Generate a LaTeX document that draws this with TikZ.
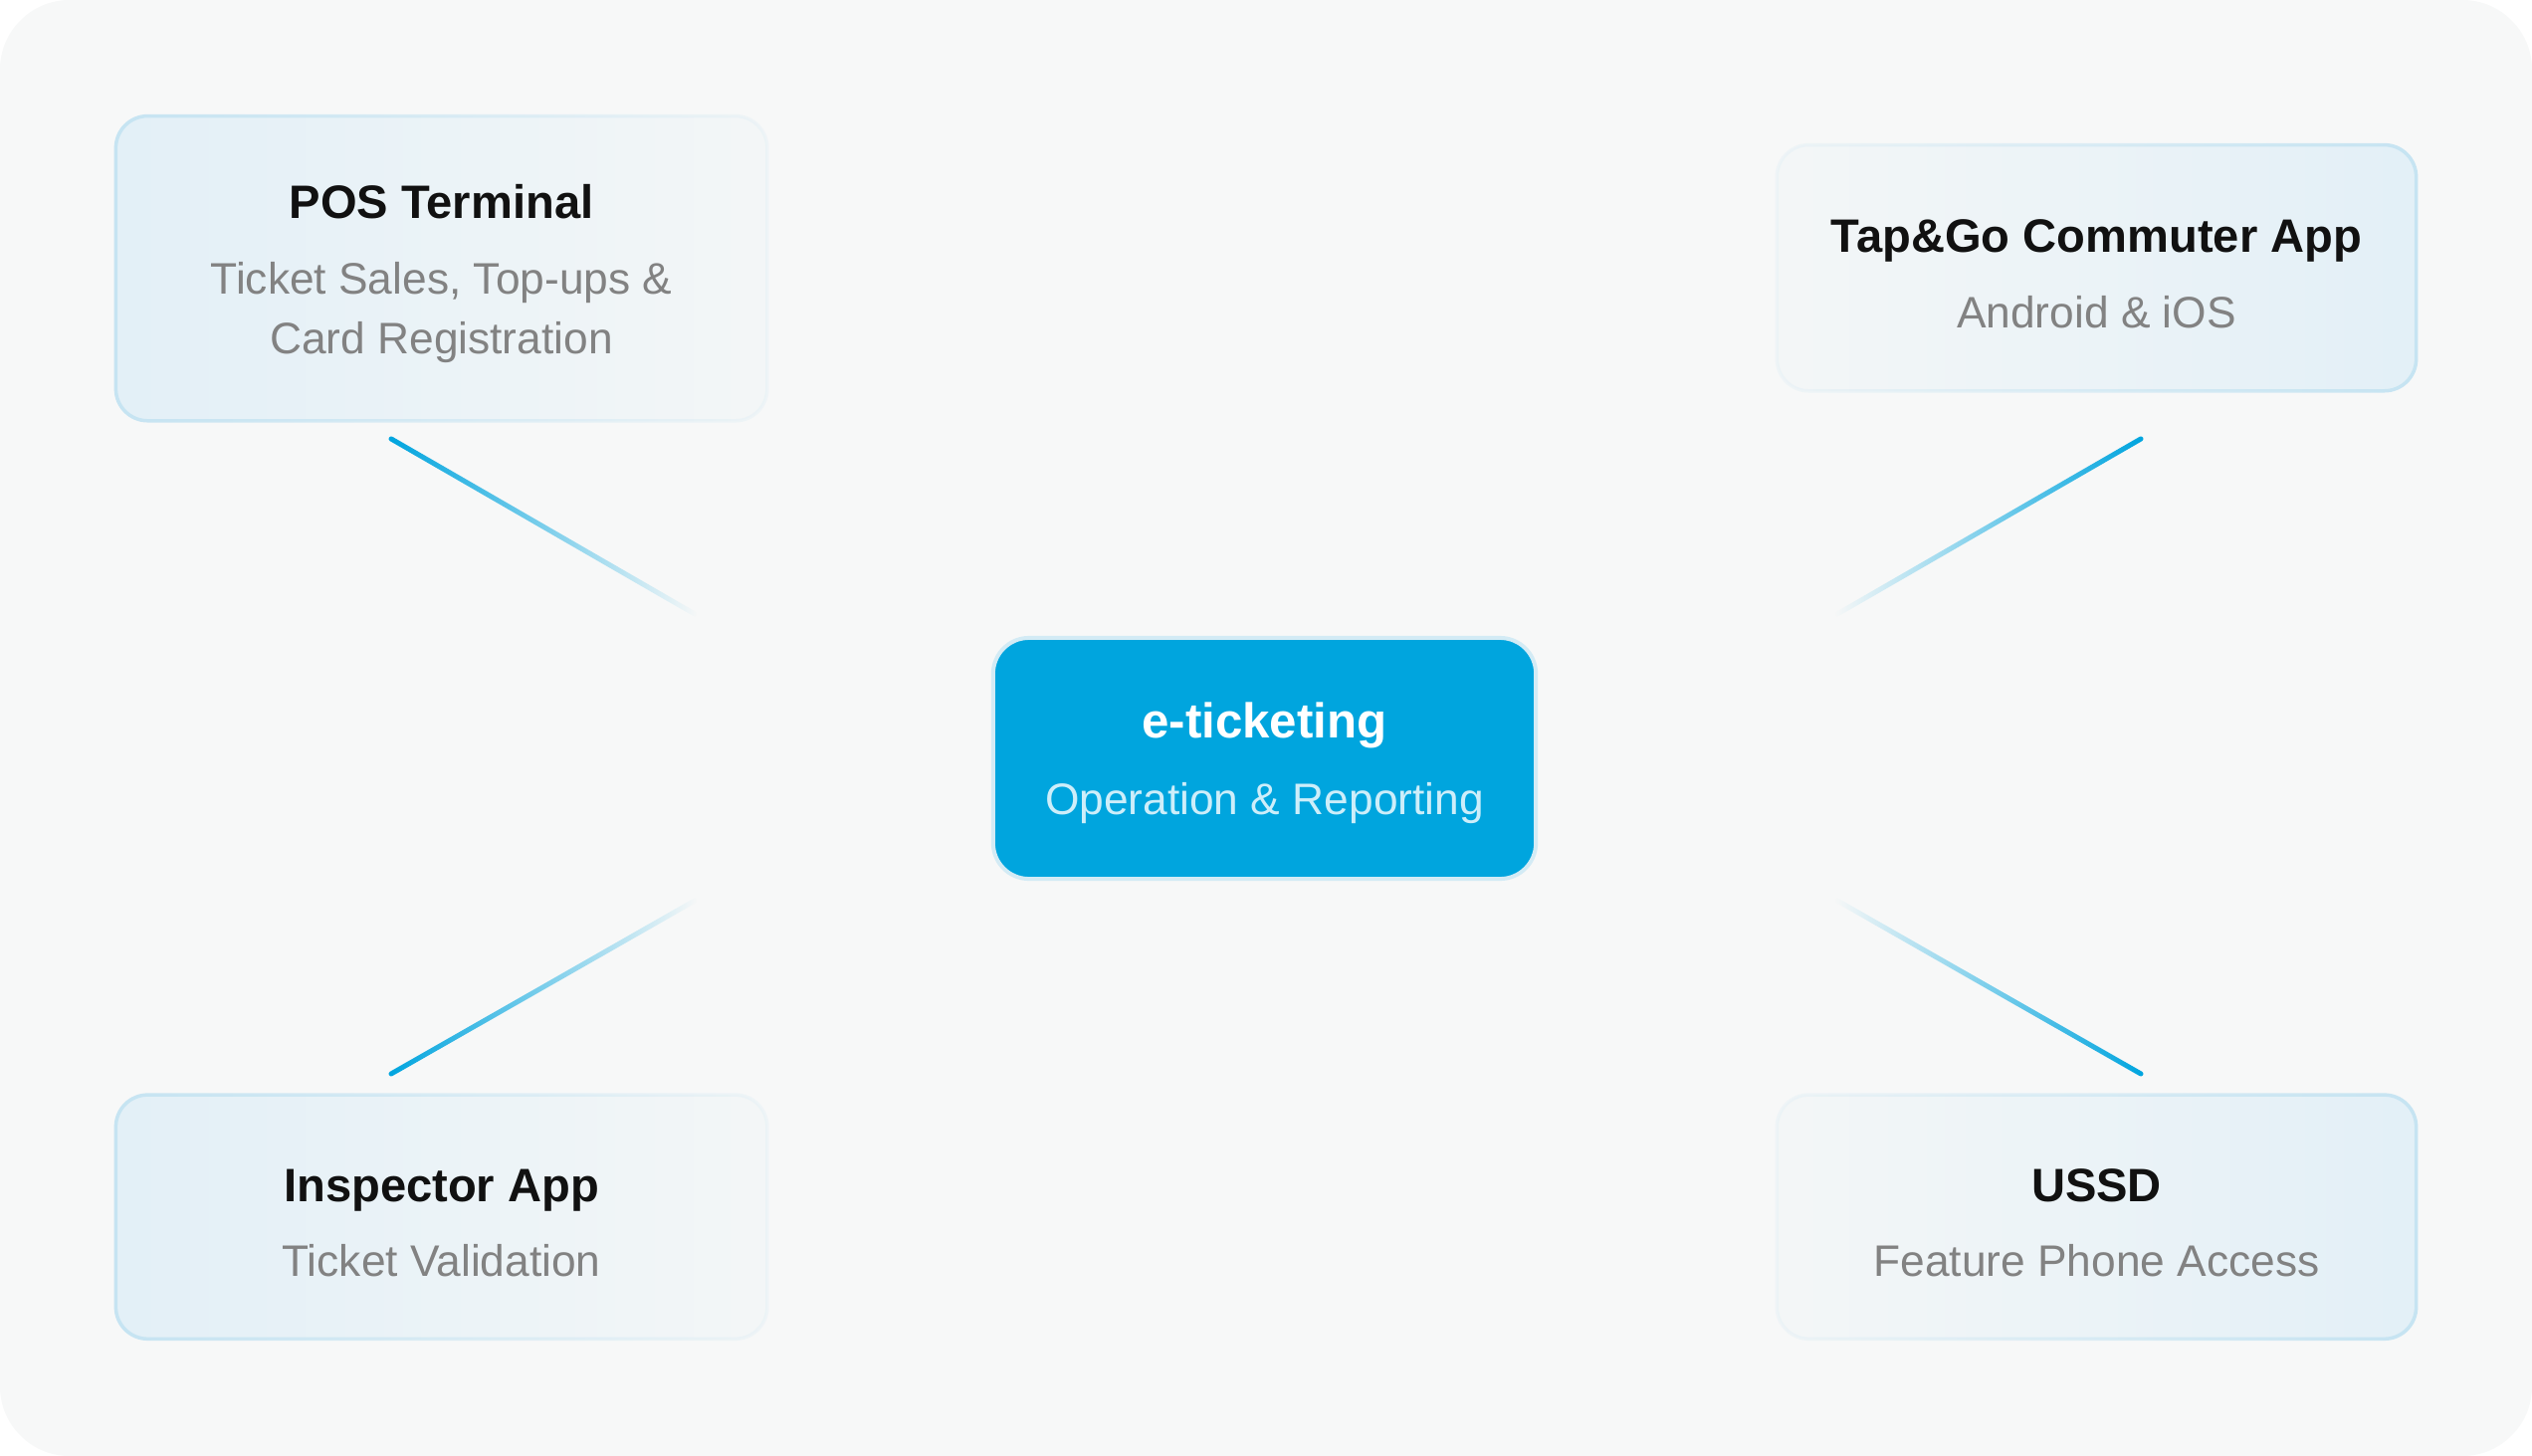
\documentclass[tikz,border=0pt]{standalone}
\usepackage{fontspec}
\setmainfont{Liberation Sans}
\usepackage{xcolor}
\usetikzlibrary{positioning,fadings,backgrounds}

\definecolor{pagebg}{HTML}{F7F8F8}
\definecolor{cardfill}{HTML}{E3F0F7}
\definecolor{cardline}{HTML}{C6E4F2}
\definecolor{hubblue}{HTML}{00A5DE}
\definecolor{hubring}{HTML}{D3EBF5}
\definecolor{hubsub}{HTML}{CDEEFA}
\definecolor{titleink}{HTML}{111111}
\definecolor{subink}{HTML}{828282}
\definecolor{linkblue}{HTML}{00A5DF}

\tikzfading[name=card fade east, left color=transparent!0, right color=transparent!85]
\tikzfading[name=card fade west, left color=transparent!85, right color=transparent!0]
\tikzfading[name=link fade east, left color=transparent!0, right color=transparent!100]
\tikzfading[name=link fade west, left color=transparent!100, right color=transparent!0]

\newcommand{\cardtitle}[1]{{\rule{0pt}{12.8pt}\fontsize{13.4}{17}\selectfont\bfseries\color{titleink}#1}}
\newcommand{\cardsub}[1]{{\color{subink}#1}}

\begin{document}
\begin{tikzpicture}[
    x=0.01cm, y=-0.01cm,
    every node/.style={align=center, outer sep=0pt, font=\fontsize{12.6}{17}\selectfont},
    card/.style={minimum width=6.54cm, minimum height=3.06cm},
    cardbg/.style={fill=cardfill, draw=cardline, line width=0.035cm, rounded corners=0.32cm},
    hubbox/.style={fill=hubblue, draw=hubring, line width=0.04cm, rounded corners=0.36cm, minimum width=5.45cm, minimum height=2.42cm},
    link/.style={draw=linkblue, line width=0.05cm, line cap=round},
]
\useasboundingbox (0,0) rectangle (2544,1463);

% Nodes
\node (hub) [hubbox] at (1270.5,762) {{\rule{0pt}{12.8pt}\fontsize{14}{17}\selectfont\bfseries\color{white}e-ticketing}\\[5pt]{\color{hubsub}Operation \& Reporting}};
\node (pos) [card, above left=2.18cm and 2.27cm of hub] {\cardtitle{POS Terminal}\\[4.5pt]\cardsub{Ticket Sales, Top-ups \&}\\\cardsub{Card Registration}};
\node (tap) [card, minimum width=6.42cm, minimum height=2.47cm, above right=2.48cm and 2.42cm of hub] {\cardtitle{Tap\&Go Commuter App}\\[4.5pt]\cardsub{Android \& iOS}};
\node (insp) [card, minimum height=2.45cm, below left=2.17cm and 2.27cm of hub] {\cardtitle{Inspector App}\\[4.5pt]\cardsub{Ticket Validation}};
\node (ussd) [card, minimum width=6.42cm, minimum height=2.45cm, below right=2.17cm and 2.42cm of hub] {\cardtitle{USSD}\\[4.5pt]\cardsub{Feature Phone Access}};

% Page and card backgrounds
\begin{scope}[on background layer]
\fill[white] (0,0) rectangle (2544,1463);
\fill[pagebg, rounded corners=0.7cm] (0,0) rectangle (2544,1463);
\path[cardbg, path fading=card fade east] (pos.south west) rectangle (pos.north east);
\path[cardbg, path fading=card fade east] (insp.south west) rectangle (insp.north east);
\path[cardbg, path fading=card fade west] (tap.south west) rectangle (tap.north east);
\path[cardbg, path fading=card fade west] (ussd.south west) rectangle (ussd.north east);
\end{scope}

% Links, fading out towards the hub
\coordinate (posEnd) at (393,441);
\coordinate (posHub) at (698,617);
\coordinate (tapEnd) at (2151,441);
\coordinate (tapHub) at (1846,617);
\coordinate (inspEnd) at (393,1079);
\coordinate (inspHub) at (698,905);
\coordinate (ussdEnd) at (2151,1079);
\coordinate (ussdHub) at (1846,905);
\draw[link, path fading=link fade east] (posEnd) -- (posHub);
\draw[link, path fading=link fade west] (tapEnd) -- (tapHub);
\draw[link, path fading=link fade east] (inspEnd) -- (inspHub);
\draw[link, path fading=link fade west] (ussdEnd) -- (ussdHub);
\end{tikzpicture}
\end{document}
